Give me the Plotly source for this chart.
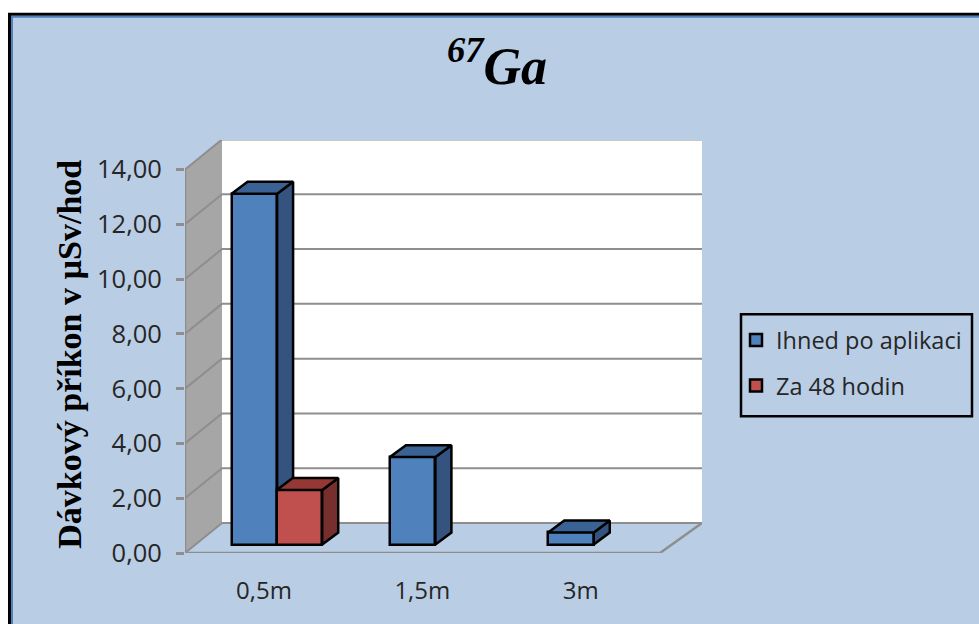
import plotly.graph_objects as go

categories = ["0,5m", "1,5m", "3m"]
immediate = [12.8, 3.19, 0.44]
after_48h = [1.99, None, None]
tick_values = [0, 2, 4, 6, 8, 10, 12, 14]
tick_labels = ["0,00", "2,00", "4,00", "6,00", "8,00", "10,00", "12,00", "14,00"]
series_names = ["Ihned po aplikaci", "Za 48 hodin"]

W, H = 979, 624
L, R, T, B = 185, 702, 139.5, 553
PX_X = 158.33
PX_Y = 27.43
X0 = (L - 264) / PX_X
X1 = (R - 264) / PX_X
Y1 = (B - T) / PX_Y
WALL_DX = 37 / PX_X
WALL_DY = 30 / PX_Y
FRONT_R = (660 - 264) / PX_X
BASE = 8.5 / PX_Y
BAR_W = 45.5 / PX_X
DX = 16 / PX_X
DY = 12 / PX_Y
OFF_BLUE = -0.061
OFF_RED = 0.224
GRAY = "#8e8e8e"


def px(x):
    return (x - L) / (R - L)


def py(y):
    return (B - y) / (B - T)


def poly(points):
    return "M" + " L".join(f"{x},{y}" for x, y in points) + " Z"


shapes = [
    dict(type="rect", xref="paper", yref="paper", x0=px(9.5), x1=px(1010), y0=py(13.5), y1=py(660),
         fillcolor="#b9cde5", line=dict(color="#000000", width=3), layer="below"),
    dict(type="rect", xref="paper", yref="paper", x0=px(12), x1=px(1010), y0=py(16), y1=py(660),
         fillcolor="rgba(0,0,0,0)", line=dict(color="#4f81bd", width=2), layer="below"),
    dict(type="rect", xref="paper", yref="paper", x0=px(741), x1=px(972), y0=py(314), y1=py(416),
         fillcolor="rgba(0,0,0,0)", line=dict(color="#000000", width=2.5), layer="below"),
    dict(type="path", xref="x", yref="y", layer="below", fillcolor="#a6a6a6", line=dict(width=0),
         path=poly([(X0, 0), (X0 + WALL_DX, WALL_DY), (X0 + WALL_DX, 14 + WALL_DY), (X0, 14)])),
    dict(type="path", xref="x", yref="y", layer="below", fillcolor="#ffffff", line=dict(width=0),
         path=poly([(X0 + WALL_DX, WALL_DY), (X1, WALL_DY), (X1, 14 + WALL_DY), (X0 + WALL_DX, 14 + WALL_DY)])),
]
for v in tick_values:
    shapes.append(dict(type="path", xref="x", yref="y", layer="below", line=dict(color=GRAY, width=2),
                       path=f"M{X0},{v} L{X0 + WALL_DX},{v + WALL_DY} L{X1},{v + WALL_DY}"))
shapes.append(dict(type="line", xref="x", yref="y", layer="below", line=dict(color=GRAY, width=2.5),
                   x0=X0, x1=X0, y0=0, y1=14))
shapes.append(dict(type="path", xref="x", yref="y", layer="below", line=dict(color=GRAY, width=2.5),
                   path=f"M{X0},0 L{FRONT_R},0 L{X1},{WALL_DY}"))


def add_series(fig, values, name, offset, front, side, top, xa, ya):
    idx = [i for i, v in enumerate(values) if v is not None]
    vals = [values[i] for i in idx]
    xs = [i + offset for i in idx]
    fig.add_trace(go.Bar(x=xs, y=vals, base=[BASE] * len(vals), width=BAR_W, name=name,
                         marker=dict(color=front, line=dict(color="#000000", width=2.5)),
                         xaxis=xa, yaxis=ya, legendgroup=name))
    for x, v in zip(xs, vals):
        xl, xr = x - BAR_W / 2, x + BAR_W / 2
        t = BASE + v
        fig.add_trace(go.Scatter(
            x=[xr, xr + DX, xr + DX, xr, xr], y=[BASE, BASE + DY, t + DY, t, BASE],
            fill="toself", fillcolor=side, mode="lines", line=dict(color="#000000", width=2.5),
            showlegend=False, hoverinfo="skip", xaxis=xa, yaxis=ya))
        fig.add_trace(go.Scatter(
            x=[xl, xl + DX, xr + DX, xr, xl], y=[t, t + DY, t + DY, t, t],
            fill="toself", fillcolor=top, mode="lines", line=dict(color="#000000", width=2.5),
            showlegend=False, hoverinfo="skip", xaxis=xa, yaxis=ya))


fig = go.Figure()
add_series(fig, immediate, series_names[0], OFF_BLUE, "#4f81bd", "#34547f", "#3a6294", "x", "y")
add_series(fig, after_48h, series_names[1], OFF_RED, "#c0504d", "#772f2d", "#953735", "x2", "y2")

fig.update_layout(
    width=W, height=H,
    margin=dict(l=L, r=W - R, t=T, b=H - B, autoexpand=False),
    paper_bgcolor="#ffffff", plot_bgcolor="rgba(0,0,0,0)",
    bargap=0, barmode="overlay",
    shapes=shapes,
    xaxis=dict(range=[X0, X1], tickmode="array", tickvals=[0, 1, 2], ticktext=categories,
               showgrid=False, zeroline=False, showline=False, ticks="outside", ticklen=16,
               tickcolor="rgba(0,0,0,0)", tickfont=dict(family="Open Sans", size=24, color="#262626")),
    yaxis=dict(range=[0, Y1], tickmode="array", tickvals=tick_values, ticktext=tick_labels,
               showgrid=False, zeroline=False, showline=False, ticks="outside", ticklen=8, tickwidth=2.5,
               tickcolor=GRAY, tickfont=dict(family="Open Sans", size=25.5, color="#262626"),
               ticklabelstandoff=9),
    xaxis2=dict(range=[X0, X1], overlaying="x", visible=False),
    yaxis2=dict(range=[0, Y1], overlaying="y", visible=False),
    legend=dict(x=px(736), y=py(318), xanchor="left", yanchor="top",
                bgcolor="rgba(0,0,0,0)", borderwidth=0,
                font=dict(family="Open Sans", size=23.5, color="#262626"),
                tracegroupgap=12, itemwidth=30, traceorder="grouped"),
    annotations=[
        dict(text="<b><i><sup>67</sup>Ga</i></b>", xref="paper", yref="paper", x=px(497), y=py(62),
             xanchor="center", yanchor="middle", showarrow=False,
             font=dict(family="Liberation Serif", size=52, color="#000000")),
        dict(text="<b>Dávkový příkon v µSv/hod</b>", xref="paper", yref="paper", x=px(69.5), y=py(354),
             xanchor="center", yanchor="middle", textangle=-90, showarrow=False,
             font=dict(family="Liberation Serif", size=34, color="#000000")),
    ],
)

fig.write_html("out.html", config={"displayModeBar": False},
               post_script="document.body.style.margin='0';document.documentElement.style.overflow='hidden';")
